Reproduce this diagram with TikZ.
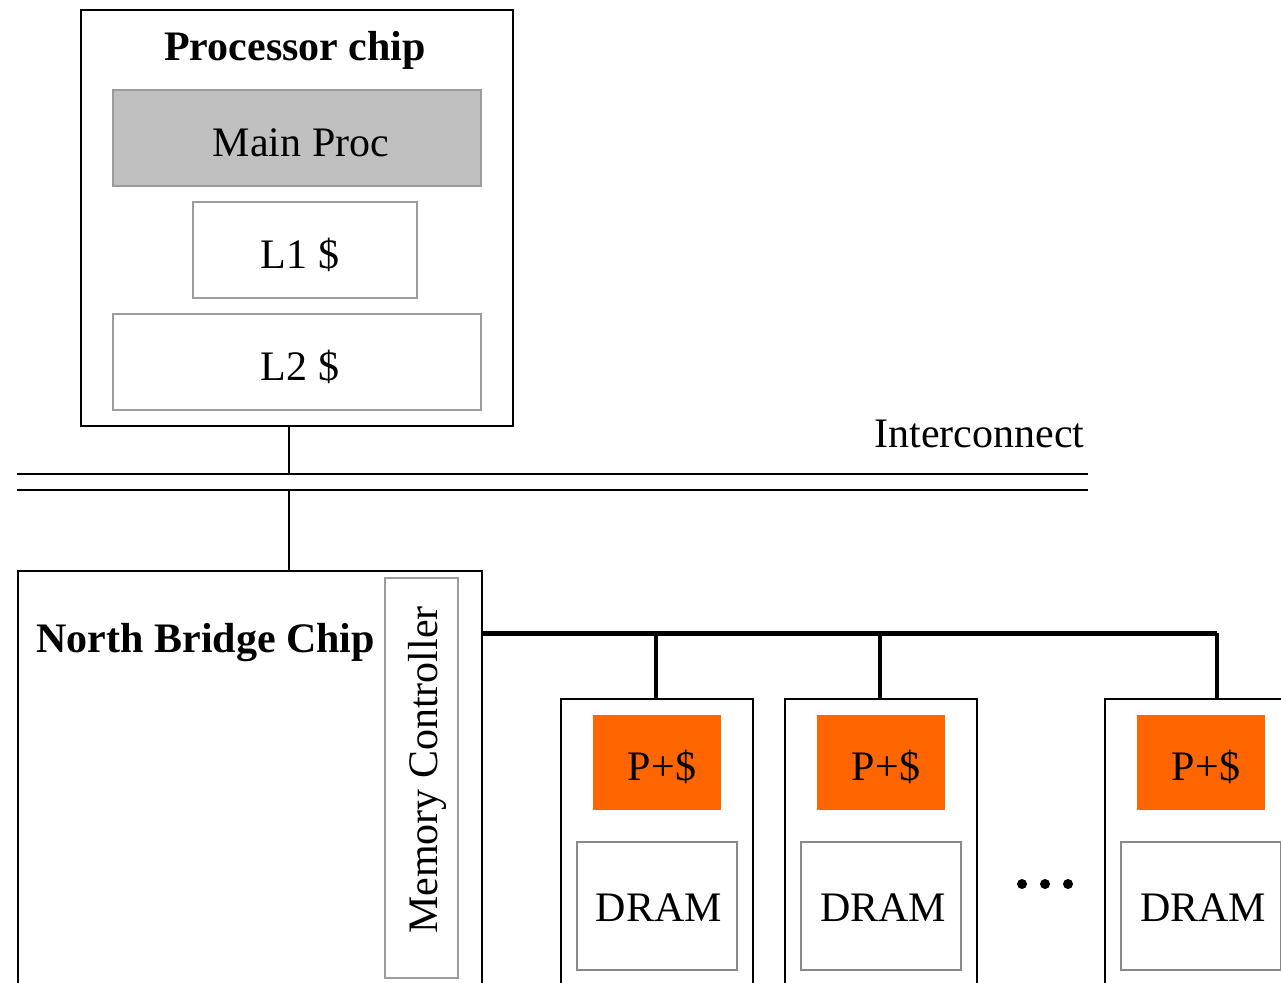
\documentclass[tikz,border=0pt]{standalone}
\usepackage{fontspec}
\setmainfont{Liberation Serif}
\usetikzlibrary{positioning,calc}
\definecolor{procgray}{HTML}{C0C0C0}
\definecolor{edgegray}{HTML}{9C9C9C}
\definecolor{dramgray}{HTML}{888888}
\definecolor{pcorange}{HTML}{FF6600}
\newcommand{\bigtext}{\fontsize{42}{48}\selectfont}

\begin{document}
\begin{tikzpicture}[x=1pt,y=-1pt,every node/.style={font=\bigtext},
  chipbox/.style={draw=black,line width=2pt,inner sep=0pt},
  partbox/.style={draw=edgegray,line width=2pt,inner sep=0pt,text height=36pt,text depth=0pt},
  pcbox/.style={fill=pcorange,inner sep=0pt,text height=36pt,text depth=0pt,
    minimum width=128pt,minimum height=95pt},
  bus/.style={line width=2pt},
  membus/.style={line width=5pt},
  tapline/.style={line width=4pt}]
\useasboundingbox (0,0) rectangle (1281,982);
\clip (0,0) rectangle (1281,982);

% processor chip
\node[chipbox,minimum width=432pt,minimum height=416pt] (proc) at (297,218) {};
\node[font=\bigtext\bfseries,anchor=base] (proctitle) at (295,60) {Processor chip};
\node[partbox,fill=procgray,minimum width=368pt,minimum height=96pt] (mainproc) at (297,138) {\hspace*{8pt}Main Proc};
\node[partbox,minimum width=224pt,minimum height=96pt] (lone) at (305,250) {L1 \$\hspace*{10pt}};
\node[partbox,minimum width=368pt,minimum height=96pt] (ltwo) at (297,362) {\hspace*{6pt}L2 \$};

% interconnect, two rails
\coordinate (icUL) at (17,474); \coordinate (icUR) at (1088,474);
\coordinate (icLL) at (17,490); \coordinate (icLR) at (1088,490);
\draw[bus] (icUL) -- (icUR);
\draw[bus] (icLL) -- (icLR);
\node[anchor=base east] (iclabel) at (1088,447) {Interconnect};

% north bridge
\node[chipbox,minimum width=464pt,minimum height=450pt,anchor=north west] (nb) at (17,570) {};
\node[font=\bigtext\bfseries,anchor=base west] (nbtitle) at (33,652) {North Bridge Chip};
\node[partbox,minimum width=73pt,minimum height=400pt] (memctl) at (421.5,778) {};
\node[rotate=90,anchor=base] (memlabel) at (437,770) {Memory Controller};

% taps onto the interconnect
\coordinate (upTap) at (289,474); \coordinate (downTap) at (289,490);
\draw[bus] (upTap |- proc.south) -- (upTap);
\draw[bus] (downTap) -- (downTap |- nb.north);

% memory bus and the DRAM modules
\coordinate (busEnd) at (1217,633);
\draw[membus] (nb.east |- busEnd) -- (busEnd);
\foreach \i/\cx/\tx in {1/657/656,2/881/880,3/1201/1217}{
  \node[chipbox,minimum width=192pt,minimum height=320pt,anchor=north] (mod\i) at (\cx,698) {};
  \node[pcbox] (pc\i) at (\cx,762) {\hspace*{10pt}P+\$};
  \node[partbox,draw=dramgray,text height=31pt,minimum width=160pt,minimum height=128pt] (dram\i) at (\cx,906) {\hspace*{4pt}DRAM};
  \coordinate (tap\i) at (\tx,633);
  \draw[tapline] (tap\i) -- (tap\i |- mod\i.north);
}
\foreach \d in {1022,1045,1068} \fill (\d,884) circle (5pt);
\end{tikzpicture}
\end{document}
